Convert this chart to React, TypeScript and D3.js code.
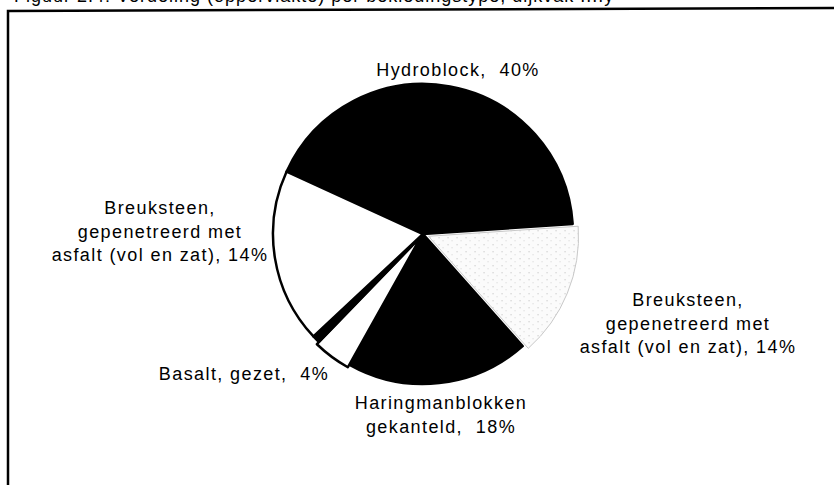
import React from "react";
import * as d3 from "d3";

const sliceNames = [
  "Hydroblock",
  "Breuksteen rechts",
  "Haringmanblokken",
  "Basalt",
  "Overig",
  "Breuksteen links",
];
const sliceValues = [42.1, 14.5, 19.7, 4.1, 0.8, 18.8];
const sliceFills = ["#000", "url(#stipple)", "#000", "#fff", "#000", "#fff"];
const sliceExplode = [0, 6, 0, 3, 0, 0];

const labelLines = [
  ["Hydroblock,  40%"],
  ["Breuksteen,", "gepenetreerd met", "asfalt (vol en zat), 14%"],
  ["Haringmanblokken", "gekanteld,  18%"],
  ["Basalt, gezet,  4%"],
  [],
  ["Breuksteen,", "gepenetreerd met", "asfalt (vol en zat), 14%"],
];
const labelPos: [number, number, string][] = [
  [458, 76, "middle"],
  [688, 306, "middle"],
  [441, 409, "middle"],
  [244, 380, "middle"],
  [0, 0, "middle"],
  [160, 214, "middle"],
];

const caption = "Figuur 2.4: Verdeling (oppervlakte) per bekledingstype, dijkvak ....y";

export default function App() {
  const W = 834, H = 485;
  const cx = 423, cy = 234, R = 150;
  const start = (-65.4 * Math.PI) / 180;
  const pie = d3
    .pie<number>()
    .sort(null)
    .value((d) => d)
    .startAngle(start)
    .endAngle(start + 2 * Math.PI);
  const arcs = pie(sliceValues);
  const arcGen = d3.arc<d3.PieArcDatum<number>>().innerRadius(0).outerRadius(R);
  const font = "'Liberation Sans', Arial, sans-serif";

  return (
    <svg
      width={W}
      height={H}
      style={{ position: "fixed", left: 0, top: 0, background: "#fff" }}
    >
      <defs>
        <pattern id="stipple" width="9" height="7" patternUnits="userSpaceOnUse">
          <rect width="9" height="7" fill="#fbfbfb" />
          <rect x="1" y="1" width="1" height="1" fill="#b8b8b8" />
          <rect x="5" y="4" width="1" height="1" fill="#d0d0d0" />
        </pattern>
      </defs>
      <rect width={W} height={H} fill="#fff" />
      <text
        x={14}
        y={2}
        fontFamily={font}
        fontSize={18}
        fill="#000"
        style={{ letterSpacing: "1px" }}
      >
        {caption}
      </text>
      <path d={`M8,485 L8,11 L834,8`} fill="none" stroke="#000" strokeWidth={2.5} />
      <g transform={`translate(${cx},${cy})`}>
        {arcs.map((a, i) => {
          const mid = (a.startAngle + a.endAngle) / 2;
          const dx = Math.sin(mid) * sliceExplode[i];
          const dy = -Math.cos(mid) * sliceExplode[i];
          const isGray = i === 1;
          return (
            <path
              key={sliceNames[i]}
              d={arcGen(a) || ""}
              transform={`translate(${dx},${dy})`}
              fill={sliceFills[i]}
              stroke={isGray ? "#c8c8c8" : "#000"}
              strokeWidth={isGray ? 1 : 2.5}
              strokeLinejoin="round"
            />
          );
        })}
      </g>
      {labelLines.map((lines, i) =>
        lines.length ? (
          <text
            key={"lab" + i}
            fontFamily={font}
            fontSize={18}
            fill="#000"
            textAnchor={labelPos[i][2] as any}
            style={{ whiteSpace: "pre", letterSpacing: "1.4px" }}
          >
            {lines.map((ln, j) => (
              <tspan key={j} x={labelPos[i][0]} y={labelPos[i][1] + j * 23.5}>
                {ln}
              </tspan>
            ))}
          </text>
        ) : null
      )}
    </svg>
  );
}
